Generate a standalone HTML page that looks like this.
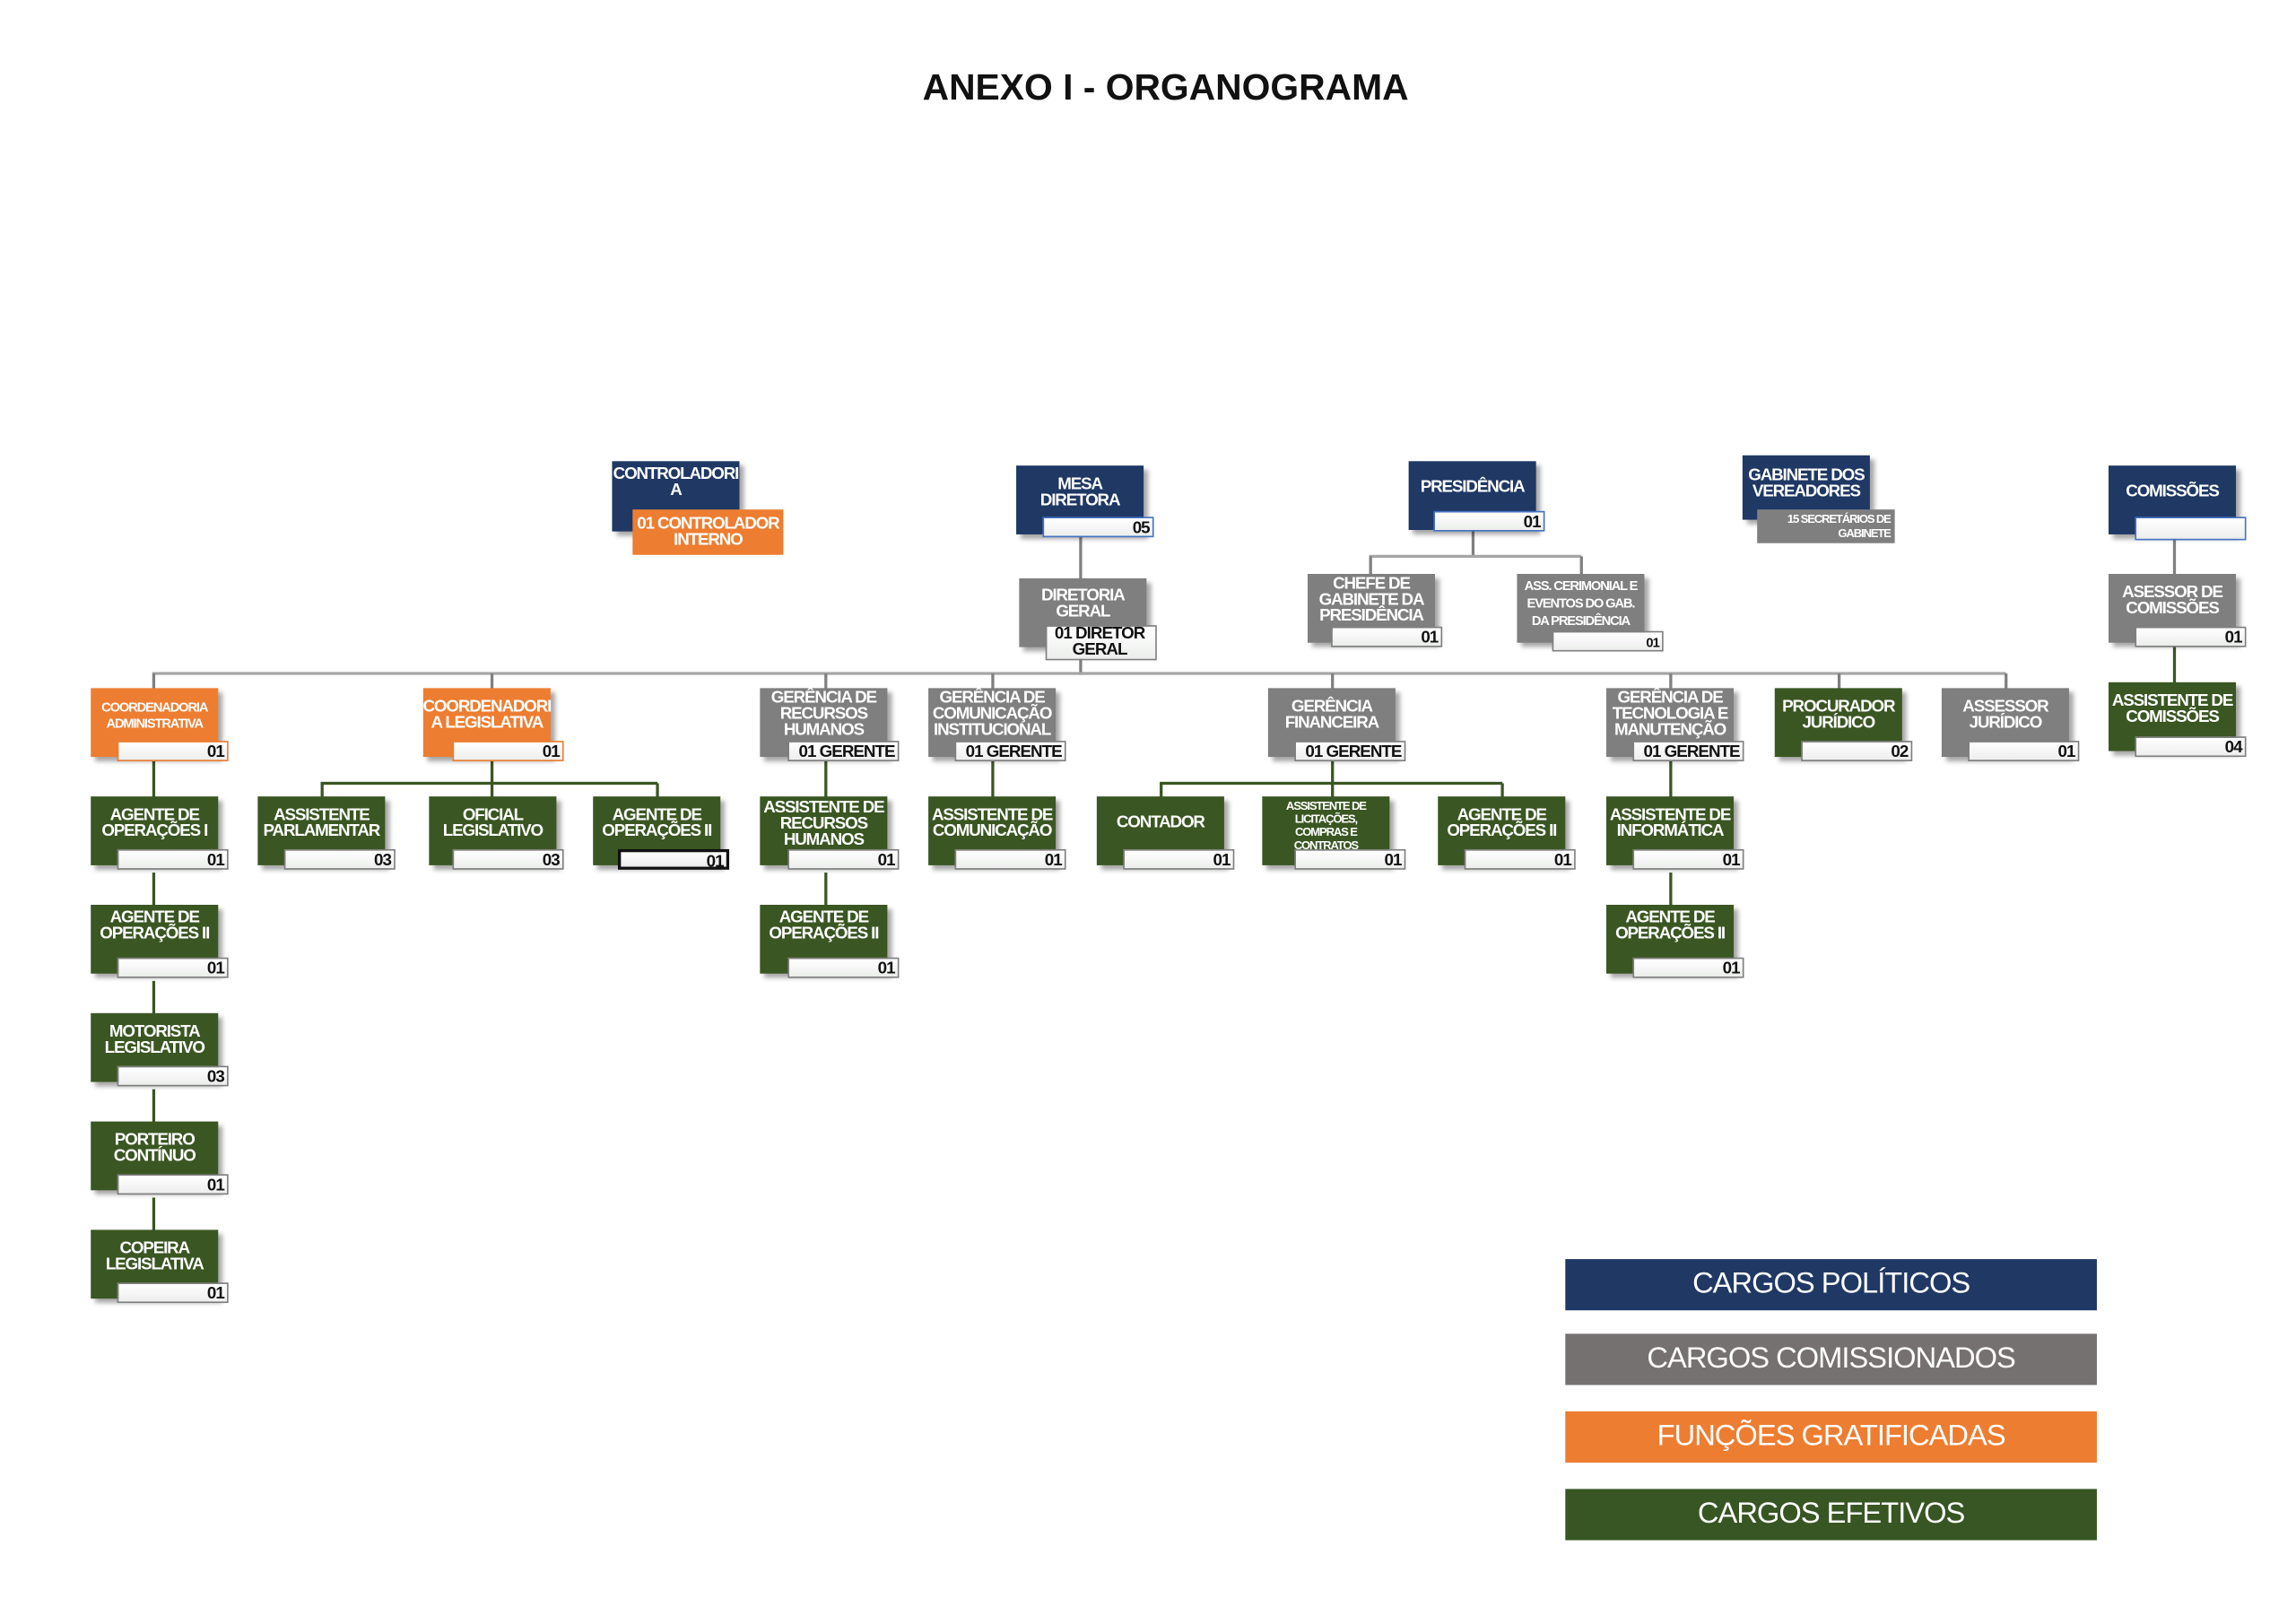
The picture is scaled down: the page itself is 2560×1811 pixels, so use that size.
<!DOCTYPE html>
<html><head><meta charset="utf-8">
<style>
html,body{margin:0;padding:0;background:#fff;}
body{width:2560px;height:1810px;overflow:hidden;position:relative;}
#w{position:absolute;left:0;top:0;width:1568px;height:1109px;transform:scale(1.63265);transform-origin:0 0;font-family:"Liberation Sans Narrow","Liberation Sans",sans-serif;}
.t{position:absolute;left:0;width:1592px;top:46px;text-align:center;font-family:"Liberation Sans",sans-serif;font-weight:bold;font-size:25px;color:#111;}
.n{position:absolute;width:87px;height:47px;box-shadow:3px 3px 3px rgba(0,0,0,.35);color:#fff;font-weight:bold;font-size:11.5px;line-height:11px;letter-spacing:-0.7px;text-align:center;}
.n span{position:absolute;left:0;right:0;top:0;height:37px;display:flex;align-items:center;justify-content:center;}
.nv{background:#1f3864}.gr{background:#7f7f7f}.or{background:#ed7d31}.gn{background:#3a5622}
.c{position:absolute;width:76px;height:14px;background:linear-gradient(#fff,#eceeec);border:1px solid #7f7f7f;font-weight:bold;font-size:11.5px;line-height:14px;text-align:right;padding-right:2px;box-sizing:border-box;color:#111;letter-spacing:-0.6px;}
.cb{border-color:#4472c4}.co{border-color:#ed7d31}.ck{border:2px solid #111;}
.h{position:absolute;height:2px;background:#a6a6a6}
.v{position:absolute;width:1.5px;background:#7f7f7f}
.g{background:#3a5622!important}
.lg{position:absolute;left:1069px;width:363px;height:35px;color:#fff;font-family:"Liberation Sans",sans-serif;font-size:20px;line-height:35px;text-align:center;letter-spacing:-0.6px;}
</style></head><body><div id="w">
<div class="t">ANEXO I - ORGANOGRAMA</div>

<div class="v" style="left:737px;top:366px;height:95px"></div>
<div class="h" style="left:104px;top:459px;width:1266px"></div>
<div class="v" style="left:104px;top:460px;height:11px"></div>
<div class="v" style="left:335px;top:460px;height:11px"></div>
<div class="v" style="left:563px;top:460px;height:11px"></div>
<div class="v" style="left:677px;top:460px;height:11px"></div>
<div class="v" style="left:909px;top:460px;height:11px"></div>
<div class="v" style="left:1140px;top:460px;height:11px"></div>
<div class="v" style="left:1255px;top:460px;height:11px"></div>
<div class="v" style="left:1369px;top:460px;height:11px"></div>
<div class="v" style="left:1005px;top:362px;height:18px"></div>
<div class="h" style="left:935px;top:379px;width:145px"></div>
<div class="v" style="left:935px;top:380px;height:13px"></div>
<div class="v" style="left:1079px;top:380px;height:13px"></div>
<div class="v" style="left:1484px;top:366px;height:27px"></div>
<div class="v g" style="left:1484px;top:440px;height:27px"></div>
<div class="v g" style="left:104px;top:520px;height:25px"></div>
<div class="v g" style="left:104px;top:596px;height:23px"></div>
<div class="v g" style="left:104px;top:670px;height:23px"></div>
<div class="v g" style="left:104px;top:744px;height:23px"></div>
<div class="v g" style="left:104px;top:818px;height:23px"></div>
<div class="v g" style="left:335px;top:520px;height:25px"></div>
<div class="h g" style="left:219px;top:534px;width:230px"></div>
<div class="v g" style="left:219px;top:535px;height:10px"></div>
<div class="v g" style="left:448px;top:535px;height:10px"></div>
<div class="v g" style="left:563px;top:520px;height:25px"></div>
<div class="v g" style="left:563px;top:596px;height:23px"></div>
<div class="v g" style="left:677px;top:520px;height:25px"></div>
<div class="v g" style="left:909px;top:520px;height:25px"></div>
<div class="h g" style="left:792px;top:534px;width:234px"></div>
<div class="v g" style="left:792px;top:535px;height:10px"></div>
<div class="v g" style="left:1025px;top:535px;height:10px"></div>
<div class="v g" style="left:1140px;top:520px;height:25px"></div>
<div class="v g" style="left:1140px;top:596px;height:23px"></div>

<div class="n nv" style="left:418px;top:315px;height:48px"><span style="height:30px">CONTROLADORI<br>A</span></div>
<div class="n or" style="left:432px;top:348px;width:103px;height:31px;box-shadow:none"><span style="height:31px">01 CONTROLADOR<br>INTERNO</span></div>

<div class="n nv" style="left:694px;top:318px"><span>MESA<br>DIRETORA</span></div>
<div class="c cb" style="left:712px;top:353px">05</div>

<div class="n gr" style="left:696px;top:395px"><span style="height:36px">DIRETORIA<br>GERAL</span></div>
<div class="c" style="left:714px;top:427px;height:24px;line-height:11px;text-align:center">01 DIRETOR<br>GERAL</div>

<div class="n nv" style="left:962px;top:315px"><span>PRESIDÊNCIA</span></div>
<div class="c cb" style="left:979px;top:349px">01</div>

<div class="n gr" style="left:893px;top:392px"><span>CHEFE DE<br>GABINETE DA<br>PRESIDÊNCIA</span></div>
<div class="c" style="left:909px;top:428px">01</div>

<div class="n gr" style="left:1036px;top:392px;font-size:9px;line-height:12px"><span style="height:40px">ASS. CERIMONIAL E<br>EVENTOS DO GAB.<br>DA PRESIDÊNCIA</span></div>
<div class="c" style="left:1060px;top:431px;font-size:9px">01</div>

<div class="n nv" style="left:1190px;top:311px;height:44px"><span style="height:40px">GABINETE DOS<br>VEREADORES</span></div>
<div class="n gr" style="left:1200px;top:348px;width:94px;height:23px;font-size:8px;line-height:10px;text-align:right;box-shadow:none"><span style="height:23px;justify-content:flex-end;padding-right:3px;text-align:right">15 SECRETÁRIOS DE<br>GABINETE</span></div>

<div class="n nv" style="left:1440px;top:318px"><span>COMISSÕES</span></div>
<div class="c cb" style="left:1458px;top:353px;height:16px"></div>

<div class="n gr" style="left:1440px;top:392px"><span>ASESSOR DE<br>COMISSÕES</span></div>
<div class="c" style="left:1458px;top:428px">01</div>

<div class="n gn" style="left:1440px;top:466px"><span>ASSISTENTE DE<br>COMISSÕES</span></div>
<div class="c" style="left:1458px;top:503px">04</div>

<div class="n or" style="left:62px;top:470px;font-size:9px;line-height:11px"><span>COORDENADORIA<br>ADMINISTRATIVA</span></div>
<div class="c co" style="left:80px;top:506px">01</div>
<div class="n or" style="left:289px;top:470px"><span>COORDENADORI<br>A LEGISLATIVA</span></div>
<div class="c co" style="left:309px;top:506px">01</div>
<div class="n gr" style="left:519px;top:470px"><span style="height:36px">GERÊNCIA DE<br>RECURSOS<br>HUMANOS</span></div>
<div class="c" style="left:538px;top:506px">01 GERENTE</div>
<div class="n gr" style="left:634px;top:470px"><span style="height:36px">GERÊNCIA DE<br>COMUNICAÇÃO<br>INSTITUCIONAL</span></div>
<div class="c" style="left:652px;top:506px">01 GERENTE</div>
<div class="n gr" style="left:866px;top:470px"><span>GERÊNCIA<br>FINANCEIRA</span></div>
<div class="c" style="left:884px;top:506px">01 GERENTE</div>
<div class="n gr" style="left:1097px;top:470px"><span style="height:36px">GERÊNCIA DE<br>TECNOLOGIA E<br>MANUTENÇÃO</span></div>
<div class="c" style="left:1115px;top:506px">01 GERENTE</div>
<div class="n gn" style="left:1212px;top:470px"><span>PROCURADOR<br>JURÍDICO</span></div>
<div class="c" style="left:1230px;top:506px">02</div>
<div class="n gr" style="left:1326px;top:470px"><span>ASSESSOR<br>JURÍDICO</span></div>
<div class="c" style="left:1344px;top:506px">01</div>

<div class="n gn" style="left:62px;top:544px"><span>AGENTE DE<br>OPERAÇÕES I</span></div>
<div class="c" style="left:80px;top:580px">01</div>
<div class="n gn" style="left:176px;top:544px"><span>ASSISTENTE<br>PARLAMENTAR</span></div>
<div class="c" style="left:194px;top:580px">03</div>
<div class="n gn" style="left:293px;top:544px"><span>OFICIAL<br>LEGISLATIVO</span></div>
<div class="c" style="left:309px;top:580px">03</div>
<div class="n gn" style="left:405px;top:544px"><span>AGENTE DE<br>OPERAÇÕES II</span></div>
<div class="c ck" style="left:422px;top:580px">01</div>
<div class="n gn" style="left:519px;top:544px"><span style="height:38px">ASSISTENTE DE<br>RECURSOS<br>HUMANOS</span></div>
<div class="c" style="left:538px;top:580px">01</div>
<div class="n gn" style="left:634px;top:544px"><span>ASSISTENTE DE<br>COMUNICAÇÃO</span></div>
<div class="c" style="left:652px;top:580px">01</div>
<div class="n gn" style="left:749px;top:544px"><span>CONTADOR</span></div>
<div class="c" style="left:767px;top:580px">01</div>
<div class="n gn" style="left:862px;top:544px;font-size:8px;line-height:9px;overflow:hidden"><span style="height:38px;align-items:flex-start;padding-top:2px">ASSISTENTE DE<br>LICITAÇÕES,<br>COMPRAS E<br>CONTRATOS</span></div>
<div class="c" style="left:884px;top:580px">01</div>
<div class="n gn" style="left:982px;top:544px"><span>AGENTE DE<br>OPERAÇÕES II</span></div>
<div class="c" style="left:1000px;top:580px">01</div>
<div class="n gn" style="left:1097px;top:544px"><span>ASSISTENTE DE<br>INFORMÁTICA</span></div>
<div class="c" style="left:1115px;top:580px">01</div>

<div class="n gn" style="left:62px;top:618px"><span style="height:30px">AGENTE DE<br>OPERAÇÕES II</span></div>
<div class="c" style="left:80px;top:654px">01</div>
<div class="n gn" style="left:519px;top:618px"><span style="height:30px">AGENTE DE<br>OPERAÇÕES II</span></div>
<div class="c" style="left:538px;top:654px">01</div>
<div class="n gn" style="left:1097px;top:618px"><span style="height:30px">AGENTE DE<br>OPERAÇÕES II</span></div>
<div class="c" style="left:1115px;top:654px">01</div>
<div class="n gn" style="left:62px;top:692px"><span>MOTORISTA<br>LEGISLATIVO</span></div>
<div class="c" style="left:80px;top:728px">03</div>
<div class="n gn" style="left:62px;top:766px"><span>PORTEIRO<br>CONTÍNUO</span></div>
<div class="c" style="left:80px;top:802px">01</div>
<div class="n gn" style="left:62px;top:840px"><span>COPEIRA<br>LEGISLATIVA</span></div>
<div class="c" style="left:80px;top:876px">01</div>

<div class="lg" style="top:860px;background:#203864">CARGOS POLÍTICOS</div>
<div class="lg" style="top:911px;background:#767171">CARGOS COMISSIONADOS</div>
<div class="lg" style="top:964px;background:#ed7d31">FUNÇÕES GRATIFICADAS</div>
<div class="lg" style="top:1017px;background:#375623">CARGOS EFETIVOS</div>
</div></body></html>
